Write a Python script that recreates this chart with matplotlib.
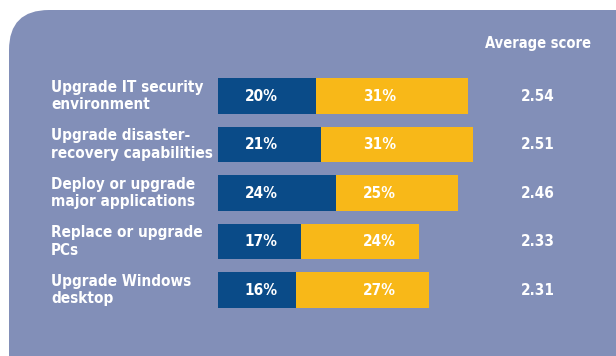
import matplotlib.pyplot as plt
from matplotlib.patches import FancyBboxPatch

items = ["Upgrade IT security\nenvironment",
         "Upgrade disaster-\nrecovery capabilities",
         "Deploy or upgrade\nmajor applications",
         "Replace or upgrade\nPCs",
         "Upgrade Windows\ndesktop"]
first_pct = [20, 21, 24, 17, 16]
second_pct = [31, 31, 25, 24, 27]
avg_score = [2.54, 2.51, 2.46, 2.33, 2.31]

panel_col = '#828FB8'
dark_col = '#0A4B88'
yellow_col = '#F8B818'
fnt = 'DejaVu Sans'
txt = dict(color='white', fontsize=11, fontweight='bold', family=fnt,
           fontstretch='condensed')

fig = plt.figure(figsize=(6.16, 3.56), dpi=100)

# background panel in pixel units
bg = fig.add_axes([0, 0, 1, 1])
bg.set_xlim(0, 616)
bg.set_ylim(356, 0)
bg.axis('off')
bg.add_patch(FancyBboxPatch((9, 10), 700, 420,
                            boxstyle="round,pad=0,rounding_size=40",
                            fc=panel_col, ec='none'))

# chart axes: x in percent (4.9 px per %), bars start at pixel 218
ax = fig.add_axes([0, 0, 1, 1])
ax.patch.set_alpha(0)
ax.axis('off')
ax.set_xlim(-218 / 4.9, (616 - 218) / 4.9)
ax.set_ylim((356 - 96) / 48.5, -96 / 48.5)

rows = range(len(items))
ax.barh(rows, first_pct, height=0.74, color=dark_col)
ax.barh(rows, second_pct, left=first_pct, height=0.74, color=yellow_col)

for i in rows:
    ax.text(-34.1, i, items[i], ha='left', va='center', linespacing=1.2, **txt)
    ax.text(8.8, i, f"{first_pct[i]}%", ha='center', va='center', **txt)
    ax.text(32.9, i, f"{second_pct[i]}%", ha='center', va='center', **txt)
    ax.text(65.3, i, f"{avg_score[i]:.2f}", ha='center', va='center', **txt)

ax.text(65.3, -1.08, "Average score", ha='center', va='center',
        **dict(txt, fontsize=10.5))

fig.savefig('out.png', dpi=100)
